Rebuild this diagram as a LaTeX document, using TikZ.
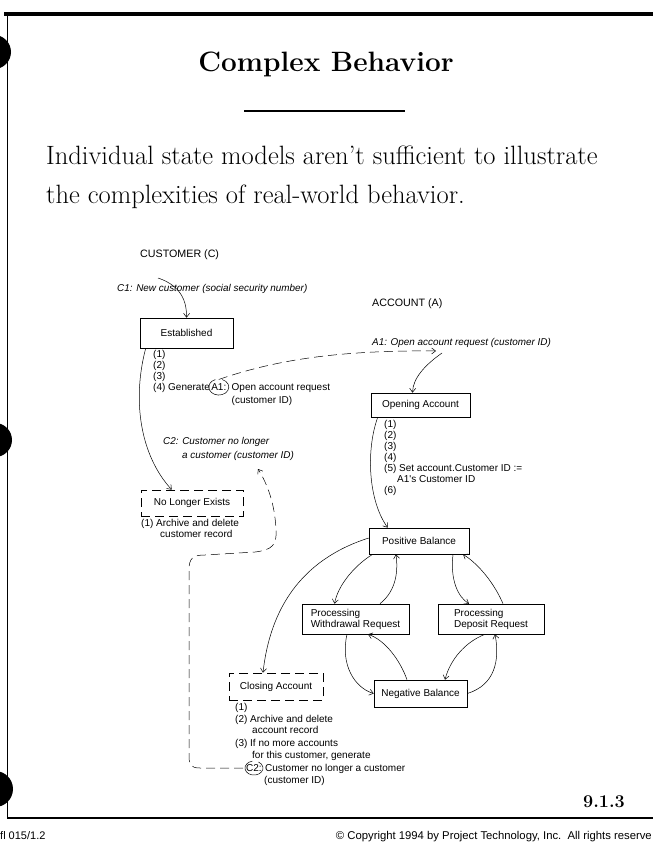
\documentclass[tikz,border=0pt]{standalone}
\usepackage{fontspec}
\newfontfamily\dg{Liberation Sans}
\usetikzlibrary{arrows.meta}
\newcommand\notestack[1]{\begin{tabular}[t]{@{}l@{}}#1\end{tabular}}
\begin{document}
\begin{tikzpicture}[x=1pt,y=-1pt,
  statebox/.style={draw, line width=0.6pt, font=\dg\fontsize{10}{11}\selectfont, align=left, inner sep=0pt},
  dashbox/.style={statebox, dash pattern=on 9pt off 5pt},
  note/.style={font=\dg\fontsize{10}{11}\selectfont, inner sep=0pt, anchor=base west},
  event/.style={note, font=\dg\itshape\fontsize{9.9}{13.5}\selectfont},
  heading/.style={note, font=\dg\fontsize{10.7}{12}\selectfont},
  conn/.style={line width=0.5pt, -{Straight Barb[length=4pt,width=6pt]}},
  dconn/.style={conn, dash pattern=on 9pt off 5pt},
  ring/.style={line width=0.5pt}]

\useasboundingbox (0,0) rectangle (653,843);

% page frame and binder holes
\draw[line width=4pt] (4,14) -- (653,14);
\draw[line width=1.1pt] (7.5,14) -- (7.5,818);
\draw[line width=1.4pt] (7,818) -- (653,818);
\fill (-6,52) circle (17pt);
\fill (-5,440) circle (17pt);
\fill (-5,789) circle (18pt);

% heading and introduction
\node[font=\fontsize{28}{30}\selectfont\bfseries] (title) at (326,64) {Complex Behavior};
\draw[line width=2.5pt] (244,111) -- (405,111);
\node[anchor=base west, inner sep=0pt, font=\fontsize{26.5}{30}\selectfont] (intro1) at (46,164)
  {Individual state models aren't sufficient to illustrate};
\node[anchor=base west, inner sep=0pt, font=\fontsize{26.5}{30}\selectfont] (intro2) at (46,203)
  {the complexities of real-world behavior.};

% ---------------- CUSTOMER state model
\node[heading] (custhead) at (140,257.5) {CUSTOMER (C)};
\node[event] (c1ev) at (117,291) {C1: New customer (social security number)};
\coordinate (c1s) at (158,278);

\node[statebox, minimum width=93pt, minimum height=30pt] (est) at (186.5,333) {Established};
\node[note] (estnotes) at (153,357.5) {\notestack{(1)\\(2)\\(3)}};
\node[note] (gen4) at (153,390.5) {(4) Generate };
\node[note, anchor=base west] (a1tag) at ([xshift=1pt]gen4.base east) {A1:};
\node[note, anchor=base west] (gen4b) at ([xshift=5pt]a1tag.base east)
  {\notestack{Open account request\\[1.5pt](customer ID)}};
\draw[ring] ([shift={(110:10pt and 8pt)}]a1tag.center) arc[start angle=110, end angle=430, x radius=10pt, y radius=8pt];

\node[event] (c2ev) at (163,444.5) {\notestack{C2: Customer no longer\\\hspace{19pt}a customer (customer ID)}};
\coordinate (c2in) at (258,469);

\node[dashbox, minimum width=102pt, minimum height=26pt] (nle) at (192,503) {No Longer Exists};
\node[note] (nlenotes) at (141,526.5) {\notestack{(1) Archive and delete\\\hspace{19pt}customer record}};

% ---------------- ACCOUNT state model
\node[heading] (accthead) at (372,306.5) {ACCOUNT (A)};
\node[event] (a1ev) at (372,345) {A1: Open account request (customer ID)};
\coordinate (a1in) at (436,351);
\coordinate (a1out) at (442,353);

\node[statebox, minimum width=99pt, minimum height=24pt] (op) at (420.5,405) {Opening Account};
\node[note] (opnotes) at (384,427.5)
  {\notestack{(1)\\(2)\\(3)\\(4)\\(5) Set account.Customer ID :=\\\hspace{13pt}A1's Customer ID\\(6)}};

\node[statebox, minimum width=100pt, minimum height=26pt] (pb) at (419,541) {Positive Balance};
\node[statebox, minimum width=107pt, minimum height=30pt] (pw) at (355.5,619) {Processing\\Withdrawal Request};
\node[statebox, minimum width=106pt, minimum height=30pt] (pd) at (491,619) {Processing\\Deposit Request};
\node[statebox, minimum width=93pt, minimum height=27pt] (nb) at (420.5,693.5) {Negative Balance};
\node[dashbox, minimum width=94pt, minimum height=27pt] (ca) at (276,686.5) {Closing Account};

\node[note, font=\dg\fontsize{10}{11.5}\selectfont] (canotes) at (235,710.5)
  {\notestack{(1)\\(2) Archive and delete\\\hspace{17pt}account record\\[1.5pt](3) If no more accounts\\\hspace{17pt}for this customer, generate}};
\node[note] (c2tag) at (246,771.5) {C2:};
\node[note] (c2rest) at ([xshift=3pt]c2tag.base east) {Customer no longer a customer};
\node[note] (c2id) at (264,783.5) {(customer ID)};
\draw[ring] ([shift={(100:9pt and 7pt)}]c2tag.center) arc[start angle=100, end angle=420, x radius=9pt, y radius=7pt];

% ---------------- transitions
\draw[conn] (c1s) .. controls (176,284) and (187,296) .. (est.north);
\draw[conn] ([xshift=6pt]est.south west) .. controls (132,400) and (140,455) .. ([xshift=31pt]nle.north west);

\draw[dconn] ([yshift=4pt]a1tag.north) .. controls (270,362) and (330,350) .. (a1in);
\draw[conn] (a1out) .. controls (425,365) and (413,378) .. ([xshift=-8pt]op.north);
\draw[conn] ([xshift=7pt]op.south west) .. controls (366,450) and (368,500) .. ([xshift=19pt]pb.north west);

\draw[dconn] ([xshift=-3pt]c2tag.west) -- (200,768) .. controls (190,768) and (189,764) .. (189,755)
  -- (189,570) .. controls (189,558) and (193,555) .. (205,555) -- (255,552)
  .. controls (272,550) and (277,545) .. (276,530) .. controls (275,505) and (268,485) .. (c2in);

\draw[conn] ([xshift=4pt]pb.south west) .. controls (355,565) and (338,585) .. ([xshift=-21pt]pw.north);
\draw[conn] ([xshift=24.5pt]pw.north) .. controls (397,590) and (398,570) .. ([xshift=-23pt]pb.south);
\draw[conn] ([xshift=34pt]pb.south) .. controls (450,580) and (458,597) .. ([xshift=-22pt]pd.north);
\draw[conn] ([xshift=12pt]pd.north) .. controls (495,585) and (480,565) .. ([xshift=44pt]pb.south);
\draw[conn] ([xshift=-8.5pt]pw.south) .. controls (340,665) and (355,688) .. (nb.west);
\draw[conn] ([xshift=-13.5pt]nb.north) .. controls (400,660) and (385,640) .. ([xshift=12.5pt]pw.south);
\draw[conn] ([xshift=-6pt]pd.south) .. controls (465,642) and (450,660) .. ([xshift=24.5pt]nb.north);
\draw[conn] (nb.east) .. controls (495,685) and (500,660) .. ([xshift=4pt]pd.south);
\draw[conn] ([yshift=3pt]pb.west) .. controls (300,560) and (270,610) .. ([xshift=-13pt]ca.north);

% ---------------- page foot
\node[font=\fontsize{18}{20}\selectfont\bfseries, anchor=base east, inner sep=0pt] (pageno) at (625,807) {9.1.3};
\node[anchor=base west, inner sep=0pt, font=\dg\fontsize{11}{12}\selectfont] (docid) at (0,839) {fl 015/1.2};
\node[anchor=base east, inner sep=0pt, font=\dg\fontsize{11.3}{13}\selectfont] (copyright) at (652,839)
  {© Copyright 1994 by Project Technology, Inc.\ \ All rights reserve};
\end{tikzpicture}
\end{document}
